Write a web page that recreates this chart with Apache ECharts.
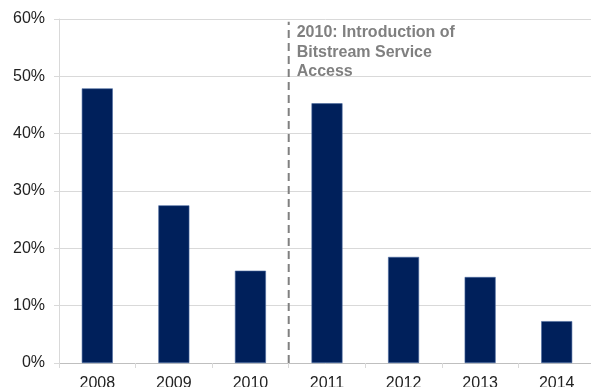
<!DOCTYPE html>
<html>
<head>
<meta charset="utf-8">
<script src="https://cdn.jsdelivr.net/npm/echarts@6/dist/echarts.min.js"></script>
<style>
  html, body { margin: 0; padding: 0; background: #fff; }
  #chart { width: 591px; height: 387px; }
</style>
</head>
<body>
<div id="chart"></div>
<script>
const years = ['2008', '2009', '2010', '2011', '2012', '2013', '2014'];
const shares = [47.9, 27.5, 16.1, 45.3, 18.5, 15.0, 7.3];
const yTicks = [0, 10, 20, 30, 40, 50, 60];
// divider sits on the boundary between 2010 and 2011 (band units)
const dividerLine = [[3, 0], [3, 59.5]];
const noteText = '2010: Introduction of\nBitstream Service\nAccess';

const chart = echarts.init(document.getElementById('chart'));
const font = "'Liberation Sans', Arial, sans-serif";

chart.setOption({
  animation: false,
  grid: { left: 59, right: -4, top: 19, bottom: 24, outerBoundsMode: 'none' },
  xAxis: [
    {
      type: 'category',
      data: years,
      axisLine: { lineStyle: { color: '#bfbfbf' } },
      axisTick: { show: true, length: 5, lineStyle: { color: '#d9d9d9' } },
      axisLabel: { color: '#222', fontSize: 16, fontFamily: font, margin: 13 }
    },
    {
      type: 'value',
      min: 0,
      max: years.length,
      show: false
    }
  ],
  yAxis: {
    type: 'value',
    min: yTicks[0],
    max: yTicks[yTicks.length - 1],
    interval: 10,
    axisLine: { show: true, lineStyle: { color: '#d9d9d9' } },
    axisTick: { show: true, length: 5, lineStyle: { color: '#d9d9d9' } },
    splitLine: { lineStyle: { color: '#d9d9d9' } },
    axisLabel: {
      color: '#222', fontSize: 16, fontFamily: font, margin: 14,
      formatter: v => v + '%'
    }
  },
  series: [
    {
      type: 'bar',
      data: shares,
      barWidth: 31,
      itemStyle: { color: '#00205b', borderColor: '#4a6aa0', borderWidth: 0.6 }
    },
    {
      type: 'line',
      xAxisIndex: 1,
      data: dividerLine,
      symbol: 'none',
      lineStyle: { color: '#808080', width: 2, type: [8, 5] },
      markPoint: {
        symbol: 'rect',
        symbolSize: 0,
        data: [{ coord: dividerLine[1] }],
        label: {
          show: true,
          formatter: noteText,
          position: [8, 1],
          align: 'left',
          verticalAlign: 'top',
          color: '#808080',
          fontSize: 16,
          fontWeight: 'bold',
          fontFamily: font,
          lineHeight: 19.5
        }
      }
    }
  ]
});
</script>
</body>
</html>
